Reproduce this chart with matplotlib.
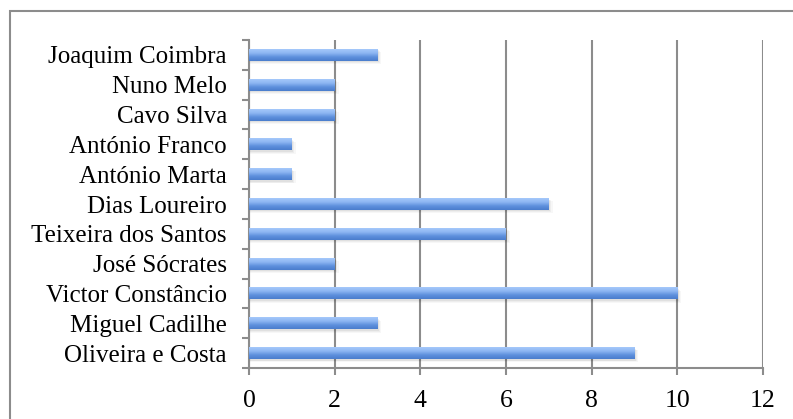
import matplotlib
matplotlib.use('Agg')
import matplotlib.pyplot as plt
import numpy as np
from matplotlib.colors import LinearSegmentedColormap
from matplotlib.patches import Rectangle

# Data (bottom to top)
names = ["Oliveira e Costa", "Miguel Cadilhe", "Victor Constâncio", "José Sócrates",
         "Teixeira dos Santos", "Dias Loureiro", "António Marta", "António Franco",
         "Cavo Silva", "Nuno Melo", "Joaquim Coimbra"]
values = [9, 3, 10, 2, 6, 7, 1, 1, 2, 2, 3]

plt.rcParams['font.family'] = ['Liberation Serif', 'DejaVu Serif']

fig = plt.figure(figsize=(7.93, 4.19), dpi=100)
fig.patches.append(Rectangle((10 / 793, -0.1), 1.1, 1 - 11 / 419 + 0.1,
                             transform=fig.transFigure, fill=False,
                             edgecolor='#8c8c8c', linewidth=1.5))
ax = fig.add_axes([249 / 793, 1 - 368 / 419, (763 - 249) / 793, (368 - 40) / 419])

y = np.arange(len(names))
grad = LinearSegmentedColormap.from_list('g', ['#a5c8fa', '#8db6f2', '#5e90dd', '#4a7dcd'])
img = np.linspace(0, 1, 64).reshape(-1, 1)

# soft shadow under each bar
for k, a in enumerate([0.05, 0.04, 0.03]):
    ax.barh(y - 0.05 - 0.03 * k, [v + 0.03 + 0.03 * k for v in values], height=0.4,
            color='#000000', alpha=a, linewidth=0, zorder=2)
bars = ax.barh(y, values, height=0.4, color='#6f9fe6', linewidth=0, zorder=3)
for b in bars:
    x0, y0 = b.get_x(), b.get_y()
    w, h = b.get_width(), b.get_height()
    im = ax.imshow(img, cmap=grad, aspect='auto', extent=[x0, x0 + w, y0, y0 + h],
                   origin='upper', zorder=4)
    im.set_clip_path(b)

ax.set_xlim(0, 12)
ax.set_ylim(-0.5, len(names) - 0.5)
ax.set_xticks(range(0, 13, 2))
ax.set_yticks(y)
ax.set_yticklabels(names)
ax.set_yticks(np.arange(-0.5, len(names), 1), minor=True)
ax.grid(axis='x', color='#8c8c8c', linewidth=1.5, zorder=1)
ax.set_axisbelow(True)

for s in ['top', 'right']:
    ax.spines[s].set_visible(False)
for s in ['left', 'bottom']:
    ax.spines[s].set_color('#8c8c8c')
    ax.spines[s].set_linewidth(1.5)

ax.tick_params(axis='y', which='major', length=0, pad=16, labelsize=18)
ax.tick_params(axis='y', which='minor', length=5, width=1.5, color='#8c8c8c', direction='out')
ax.tick_params(axis='x', which='major', length=5, width=1.5, color='#8c8c8c', direction='out',
               pad=11, labelsize=18.5)

fig.savefig('out.png', dpi=100)
